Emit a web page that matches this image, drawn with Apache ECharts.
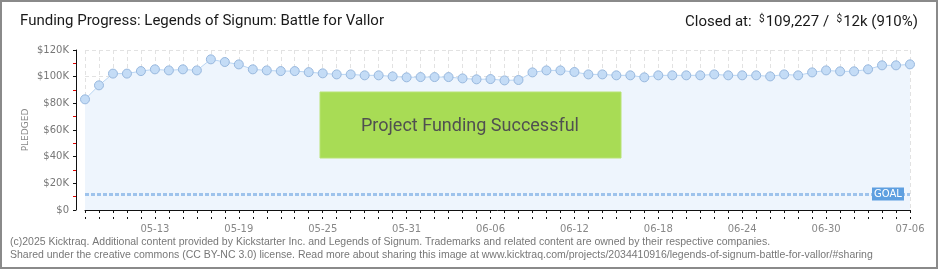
<!DOCTYPE html>
<html>
<head>
<meta charset="utf-8">
<script src="https://cdn.jsdelivr.net/npm/echarts@6/dist/echarts.min.js"></script>
<style>
  html, body { margin: 0; padding: 0; background: #fff; }
  #chart { width: 940px; height: 270px; }
</style>
</head>
<body>
<div id="chart"></div>
<script>
// Daily pledge totals, 05-08 through 07-06
const dates = [
  '05-08','05-09','05-10','05-11','05-12','05-13','05-14','05-15','05-16','05-17',
  '05-18','05-19','05-20','05-21','05-22','05-23','05-24','05-25','05-26','05-27',
  '05-28','05-29','05-30','05-31','06-01','06-02','06-03','06-04','06-05','06-06',
  '06-07','06-08','06-09','06-10','06-11','06-12','06-13','06-14','06-15','06-16',
  '06-17','06-18','06-19','06-20','06-21','06-22','06-23','06-24','06-25','06-26',
  '06-27','06-28','06-29','06-30','07-01','07-02','07-03','07-04','07-05','07-06'
];
const pledged = [
  83000, 93500, 102300, 102300, 104200, 105500, 104700, 105500, 104700, 113000,
  111000, 109200, 105500, 104700, 104200, 104200, 103400, 102500, 101700, 101700,
  101000, 101000, 100200, 99500, 99700, 99700, 99700, 98700, 98000, 98200,
  97200, 97500, 103200, 104700, 104700, 103500, 101700, 101700, 101000, 101000,
  99500, 101000, 101000, 101000, 101000, 101700, 101000, 101000, 101000, 100200,
  101700, 101000, 103200, 104700, 104000, 104000, 105500, 108500, 108500, 109227
];
const goal = 12000;
const yTicks = [0, 20000, 40000, 60000, 80000, 100000, 120000];

const chart = echarts.init(document.getElementById('chart'), null, { renderer: 'canvas' });

const axisFont = 'DejaVu Sans';

chart.setOption({
  animation: false,
  grid: { left: 85, right: 30, top: 50, bottom: 60 },
  xAxis: [{
    type: 'category',
    data: dates,
    boundaryGap: false,
    offset: 9,
    axisLine: { lineStyle: { color: '#111', width: 1 } },
    axisTick: { show: true, interval: 0, length: 3, lineStyle: { color: '#111' } },
    axisLabel: {
      interval: (i) => (i - 5) % 6 === 0,
      color: '#888', fontFamily: axisFont, fontSize: 10, margin: 5
    },
    splitLine: { show: true, interval: 0, lineStyle: { color: '#e2e2e2', type: [4, 3] } }
  }, {
    type: 'category',
    data: dates,
    boundaryGap: false,
    position: 'bottom',
    offset: 9,
    axisLine: { show: false },
    axisTick: { show: true, inside: true, interval: 0, length: 2, lineStyle: { color: '#111' } },
    axisLabel: { show: false },
    splitLine: { show: false }
  }],
  yAxis: {
    type: 'value',
    min: yTicks[0],
    max: yTicks[yTicks.length - 1],
    interval: 20000,
    offset: 9,
    name: 'PLEDGED',
    nameLocation: 'middle',
    nameGap: 46,
    nameRotate: 90,
    nameMoveOverlap: false,
    nameTextStyle: { color: '#888', fontFamily: axisFont, fontSize: 9 },
    axisLine: { show: true, lineStyle: { color: '#111' } },
    axisTick: { show: true, length: 3, lineStyle: { color: '#111' } },
    minorTick: { show: true, splitNumber: 2, length: 3, lineStyle: { color: '#e00000' } },
    axisLabel: {
      color: '#777', fontFamily: axisFont, fontSize: 10, margin: 7,
      formatter: (v) => v === 0 ? '$0' : '$' + (v / 1000) + 'K'
    },
    splitLine: { show: true, lineStyle: { color: '#e2e2e2', type: [4, 3] } }
  },
  series: [{
    type: 'line',
    data: pledged,
    symbol: 'circle',
    symbolSize: 9,
    showSymbol: true,
    showAllSymbol: true,
    lineStyle: { color: '#b9d5f3', width: 1 },
    itemStyle: { color: '#c4dcf6', borderColor: '#98b8de', borderWidth: 1 },
    areaStyle: { color: '#eef5fd', opacity: 1 },
    z: 3,
    markLine: {
      silent: true,
      symbol: 'none',
      label: { show: false },
      lineStyle: { color: '#9ec3ec', width: 3, type: [4, 2] },
      data: [{ yAxis: goal }]
    },
    markPoint: {
      silent: true,
      data: [{
        coord: [dates[dates.length - 1], goal],
        symbol: 'rect',
        symbolSize: [32, 13],
        symbolOffset: [-22, 0],
        itemStyle: { color: '#5e9fe0' },
        label: { show: true, formatter: 'GOAL', color: '#fff', fontFamily: axisFont, fontSize: 10 }
      }]
    }
  }],
  graphic: [
    {
      type: 'rect', z: 100,
      shape: { x: 1, y: 1, width: 936, height: 267 },
      style: { fill: 'none', stroke: '#8a8a8a', lineWidth: 2 }
    },
    {
      type: 'text', left: 20, top: 14, z: 100,
      style: {
        text: 'Funding Progress: Legends of Signum: Battle for Vallor',
        fill: '#1a1a1a', font: '15px Roboto'
      }
    },
    {
      type: 'text', right: 22, top: 14, z: 100,
      style: {
        text: '{a|Closed at:  }{s|$}{a|109,227 /  }{s|$}{a|12k (910%)}',
        rich: {
          a: { fill: '#1a1a1a', font: '15px Roboto' },
          s: { fill: '#1a1a1a', font: '10px Roboto', verticalAlign: 'top', padding: [0, 1, 6, 0] }
        }
      }
    },
    {
      type: 'rect', z: 50,
      shape: { x: 320, y: 92, width: 301, height: 66 },
      style: { fill: '#a8dc55', stroke: '#b8e374', lineWidth: 1 }
    },
    {
      type: 'text', z: 51,
      x: 470, y: 126,
      style: {
        text: 'Project Funding Successful',
        fill: '#505050', font: '18px Roboto',
        align: 'center', verticalAlign: 'middle',
        textShadowColor: '#ffffff', textShadowOffsetX: 1, textShadowOffsetY: 1, textShadowBlur: 0
      }
    },
    {
      type: 'text', left: 10, top: 237, z: 100,
      style: {
        text: '(c)2025 Kicktraq. Additional content provided by Kickstarter Inc. and Legends of Signum. Trademarks and related content are owned by their respective companies.',
        fill: '#777', font: '10.5px "Liberation Sans"'
      }
    },
    {
      type: 'text', left: 10, top: 250, z: 100,
      style: {
        text: 'Shared under the creative commons (CC BY-NC 3.0) license. Read more about sharing this image at www.kicktraq.com/projects/2034410916/legends-of-signum-battle-for-vallor/#sharing',
        fill: '#777', font: '10.5px "Liberation Sans"'
      }
    }
  ]
});
</script>
</body>
</html>
